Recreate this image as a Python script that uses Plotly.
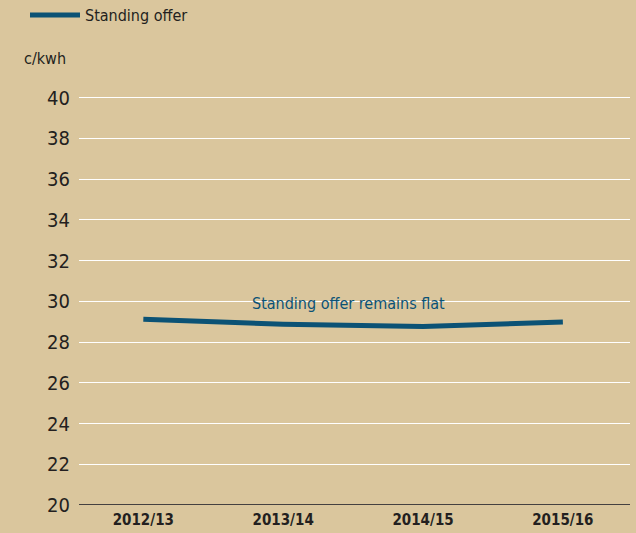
import plotly.graph_objects as go

years = ["2012/13", "2013/14", "2014/15", "2015/16"]
standing_offer = [29.12, 28.87, 28.76, 28.99]
y_ticks = [20, 22, 24, 26, 28, 30, 32, 34, 36, 38, 40]

BG = "#DAC69D"
LINE = "#0B5275"
FONT = "DejaVu Sans Condensed, Liberation Sans Narrow, sans-serif"
TXT = "#231F20"

fig = go.Figure()
fig.add_trace(go.Scatter(x=years, y=standing_offer, mode="lines", name="Standing offer",
                         line=dict(color=LINE, width=5)))

fig.update_layout(
    width=636, height=533,
    paper_bgcolor=BG, plot_bgcolor=BG,
    margin=dict(l=79, r=6, t=96, b=28, autoexpand=False),
    font=dict(family=FONT, color=TXT),
    showlegend=True,
    legend=dict(x=-0.098, y=1.198, xref="paper", yref="paper", xanchor="left", yanchor="middle",
                font=dict(size=16, family=FONT, color=TXT), bgcolor="rgba(0,0,0,0)",
                itemwidth=50),
    xaxis=dict(type="category", range=[-0.46, 3.48], showgrid=False, zeroline=False,
               showline=False, ticks="", ticklabelstandoff=4, automargin=False,
               tickfont=dict(size=15, family=FONT, color=TXT, weight="bold")),
    yaxis=dict(range=[20, 40.08], tickvals=y_ticks, showgrid=True, gridcolor="white", gridwidth=1,
               zeroline=False, showline=False, ticks="", automargin=False,
               tickfont=dict(size=20, family=FONT, color=TXT), ticklabelstandoff=8),
    annotations=[
        dict(text="c/kwh", xref="paper", yref="paper", x=-0.104, y=1.092, xanchor="left", yanchor="middle",
             showarrow=False, font=dict(size=16, family=FONT, color=TXT)),
        dict(text="Standing offer remains flat", xref="x", yref="y", x=1.47, y=29.9, xanchor="center",
             yanchor="middle", showarrow=False, font=dict(size=16, family=FONT, color=LINE)),
    ],
    shapes=[dict(type="line", xref="paper", yref="y", x0=0, x1=1, y0=20, y1=20,
                 line=dict(color="#444040", width=2))],
)

fig.write_html("out.html", config={"displayModeBar": False},
               post_script="document.body.style.margin='0';document.body.style.background='%s';" % BG)
